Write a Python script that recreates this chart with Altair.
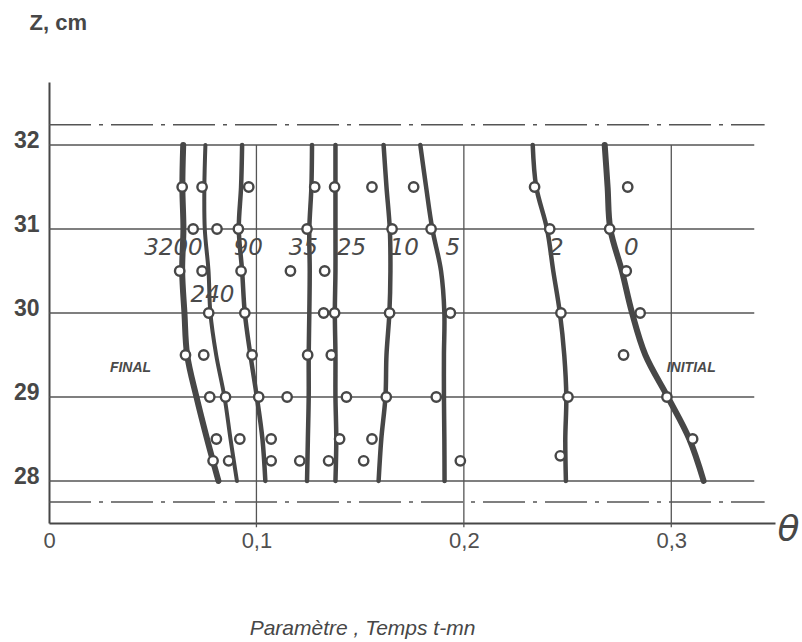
import altair as alt
import pandas as pd

# Depth levels (cm) at which each isochrone profile is tabulated
z_levels = [32.0, 31.5, 31.0, 30.5, 30.0, 29.5, 29.0, 28.5, 28.0]

# Isochrones: time parameter t (min) and theta profile along z_levels
curve_names = ["3200", "240", "90", "35", "25", "10", "5", "2", "0"]
theta_3200 = [0.0647, 0.0643, 0.0648, 0.0642, 0.0653, 0.0666, 0.0711, 0.0762, 0.0817]
theta_240 = [0.0754, 0.0749, 0.0751, 0.0769, 0.0778, 0.0806, 0.0846, 0.0875, 0.0906]
theta_90 = [0.0931, 0.0926, 0.0915, 0.0931, 0.0944, 0.0971, 0.1002, 0.1029, 0.1043]
theta_35 = [0.1268, 0.1265, 0.1255, 0.1257, 0.1255, 0.1252, 0.1252, 0.1248, 0.1244]
theta_25 = [0.1381, 0.1381, 0.1381, 0.1381, 0.1378, 0.1381, 0.1381, 0.1385, 0.1381]
theta_10 = [0.1613, 0.1627, 0.1643, 0.1646, 0.1641, 0.1627, 0.1622, 0.1602, 0.1589]
theta_5 = [0.1790, 0.1818, 0.1848, 0.1890, 0.1906, 0.1904, 0.1904, 0.1906, 0.1907]
theta_2 = [0.2332, 0.2349, 0.2401, 0.2431, 0.2463, 0.2484, 0.2494, 0.2489, 0.2492]
theta_0 = [0.2679, 0.2693, 0.2706, 0.2762, 0.2811, 0.2875, 0.2983, 0.3087, 0.3156]
curve_thetas = [theta_3200, theta_240, theta_90, theta_35, theta_25,
                theta_10, theta_5, theta_2, theta_0]
curve_widths = [6, 4, 4.5, 4.5, 4.5, 4.5, 4.5, 4.5, 6]

# Measured points, grouped by depth
meas_z = [31.5, 31.0, 30.5, 30.0, 29.5, 29.0, 28.5, 28.24, 28.3]
meas_theta = [
    [0.0642, 0.0738, 0.0963, 0.1281, 0.1377, 0.1557, 0.1758, 0.2341, 0.2790],
    [0.0695, 0.0810, 0.0913, 0.1244, 0.1654, 0.1842, 0.2414, 0.2703],
    [0.0630, 0.0738, 0.0926, 0.1164, 0.1329, 0.2783],
    [0.0770, 0.0944, 0.1324, 0.1377, 0.1642, 0.1935, 0.2468, 0.2850],
    [0.0658, 0.0746, 0.0979, 0.1247, 0.1361, 0.2770],
    [0.0775, 0.0851, 0.1011, 0.1148, 0.1434, 0.1626, 0.1867, 0.2502, 0.2979],
    [0.0807, 0.0920, 0.1071, 0.1401, 0.1557, 0.3103],
    [0.0791, 0.0866, 0.1071, 0.1209, 0.1348, 0.1517, 0.1983],
    [0.2465],
]

# Curve labels (time in minutes)
label_text = ["3200", "240", "90", "35", "25", "10", "5", "2", "0"]
label_theta = [0.0600, 0.0788, 0.0961, 0.1226, 0.1458, 0.1713, 0.1947, 0.2446, 0.2807]
label_z = [30.77, 30.21, 30.77, 30.77, 30.77, 30.77, 30.77, 30.77, 30.77]

# Profile annotations
note_text = ["FINAL", "INITIAL"]
note_theta = [0.0393, 0.3096]
note_z = [29.35, 29.35]

# Reference lines
grid_z = [28, 29, 30, 31, 32]
grid_theta = [0.1, 0.2, 0.3]
bound_z = [32.24, 27.75]

INK = "#474747"
LINE = "#555555"

curves = pd.DataFrame(
    [
        {"t": name, "theta": th, "z": z, "w": w}
        for name, ths, w in zip(curve_names, curve_thetas, curve_widths)
        for th, z in zip(ths, z_levels)
    ]
)
points = pd.DataFrame(
    [{"theta": th, "z": z} for z, row in zip(meas_z, meas_theta) for th in row]
)
labels = pd.DataFrame({"label": label_text, "theta": label_theta, "z": label_z})
notes = pd.DataFrame({"label": note_text, "theta": note_theta, "z": note_z})
hgrid = pd.DataFrame({"z": grid_z, "t0": [0.0] * len(grid_z), "t1": [0.34] * len(grid_z)})
vgrid = pd.DataFrame({"theta": grid_theta, "z0": [27.45] * 3, "z1": [32.0] * 3})
bounds = pd.DataFrame({"z": bound_z, "t0": [0.0, 0.0], "t1": [0.345, 0.345]})
symbol = pd.DataFrame({"label": ["θ"], "theta": [0.3565], "z": [27.42]})

xs = alt.Scale(domain=[0, 0.35], nice=False, zero=False)
ys = alt.Scale(domain=[27.5, 32.75], nice=False, zero=False)

x_axis = alt.Axis(
    values=[0, 0.1, 0.2, 0.3],
    labelExpr="datum.value == 0 ? '0' : replace(format(datum.value, '.1f'), '.', ',')",
    labelFlush=False,
    ticks=False,
    grid=False,
    domainColor=INK,
    domainWidth=2,
    labelFont="Liberation Sans",
    labelFontSize=22,
    labelColor="#505050",
    labelPadding=7,
    title="Paramètre , Temps t-mn",
    titleFont="Liberation Sans",
    titleFontSize=21,
    titleFontStyle="italic",
    titleFontWeight="normal",
    titleColor=INK,
    titleX=313,
    titleY=105,
    titleAlign="center",
    titleBaseline="middle",
)
y_axis = alt.Axis(
    values=[28, 29, 30, 31, 32],
    labelFlush=False,
    ticks=False,
    grid=False,
    domainColor=INK,
    domainWidth=2,
    labelFont="Liberation Sans",
    labelFontSize=23,
    labelFontWeight="bold",
    labelColor=INK,
    labelPadding=10,
    labelOffset=-5,
    title="Z, cm",
    titleFont="Liberation Sans",
    titleFontSize=22,
    titleFontWeight="bold",
    titleColor=INK,
    titleAngle=0,
    titleAlign="left",
    titleBaseline="middle",
    titleX=-20,
    titleY=-60,
)

X = lambda f: alt.X(f, scale=xs, axis=x_axis)
Y = lambda f: alt.Y(f, scale=ys, axis=y_axis)

h_lines = alt.Chart(hgrid).mark_rule(color=LINE, strokeWidth=1.5).encode(
    x=X("t0:Q"), x2="t1:Q", y=Y("z:Q")
)
v_lines = alt.Chart(vgrid).mark_rule(color=LINE, strokeWidth=1.3).encode(
    x=X("theta:Q"), y=Y("z0:Q"), y2="z1:Q"
)
b_lines = alt.Chart(bounds).mark_rule(
    color=LINE, strokeWidth=1.5, strokeDash=[42, 8, 4, 8]
).encode(x=X("t0:Q"), x2="t1:Q", y=Y("z:Q"))

curve_lines = alt.Chart(curves).mark_line(
    color=INK, interpolate="catmull-rom", strokeCap="round"
).encode(
    x=X("theta:Q"),
    y=Y("z:Q"),
    detail="t:N",
    order=alt.Order("z:Q", sort="descending"),
    strokeWidth=alt.StrokeWidth("w:Q", scale=None),
)
circles = alt.Chart(points).mark_point(
    shape="circle", size=88, filled=False, fill="white", fillOpacity=1,
    stroke=INK, strokeWidth=2.4, opacity=1,
).encode(x=X("theta:Q"), y=Y("z:Q"))

curve_labels = alt.Chart(labels).mark_text(
    font="DejaVu Sans", fontSize=23, fontStyle="italic", color="#4a4a4a",
    align="center", baseline="middle",
).encode(x=X("theta:Q"), y=Y("z:Q"), text="label:N")

note_labels = alt.Chart(notes).mark_text(
    font="Liberation Sans", fontSize=14, fontStyle="italic", fontWeight="bold",
    color="#4a4a4a", align="center", baseline="middle",
).encode(x=X("theta:Q"), y=Y("z:Q"), text="label:N")

theta_label = alt.Chart(symbol).mark_text(
    font="DejaVu Sans", fontSize=36, fontStyle="italic", color=INK,
    align="center", baseline="middle",
).encode(x=X("theta:Q"), y=Y("z:Q"), text="label:N")

chart = (
    alt.layer(h_lines, v_lines, b_lines, curve_lines, circles,
              curve_labels, note_labels, theta_label)
    .properties(
        width=726,
        height=441,
        autosize=alt.AutoSizeParams(type="none"),
        padding={"left": 49, "top": 82, "right": 27, "bottom": 119},
        background="white",
    )
    .configure_view(stroke=None)
)

chart.save("out.html", embed_options={"renderer": "svg", "actions": False})
